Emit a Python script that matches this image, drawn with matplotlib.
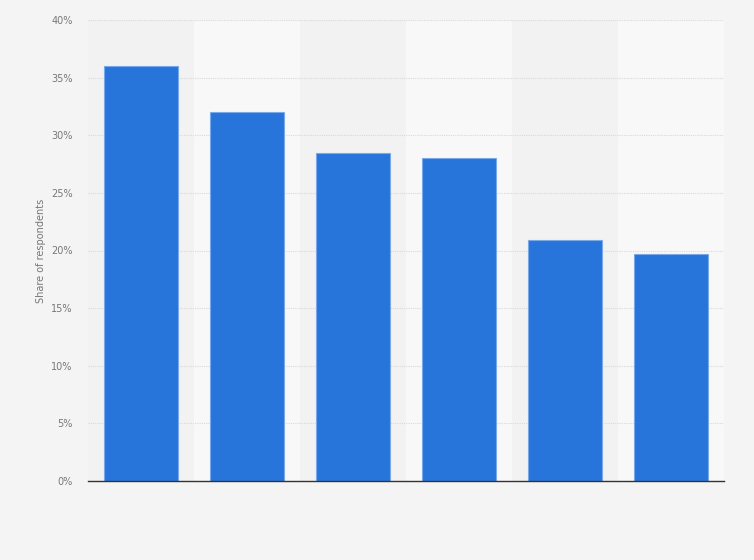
import matplotlib.pyplot as plt
from matplotlib.ticker import FuncFormatter

# Chart data
categories = ['1', '2', '3', '4', '5', '6']
shares = [36.0, 32.0, 28.5, 28.0, 20.9, 19.7]
y_ticks = [0, 5, 10, 15, 20, 25, 30, 35, 40]

bg = '#f4f4f4'
fig = plt.figure(figsize=(7.54, 5.60), dpi=100, facecolor=bg)
ax = fig.add_axes([88 / 754, 1 - 481 / 560, 636 / 754, 461 / 560])
ax.set_facecolor(bg)

x = list(range(len(categories)))

# alternating column bands
for i in x:
    ax.axvspan(i - 0.5, i + 0.5, color='#f2f2f2' if i % 2 == 0 else '#f8f8f8',
               zorder=0, lw=0)

ax.bar(x, shares, width=0.69, color='#2775db', edgecolor='#7aa9ea',
       linewidth=0.8, zorder=3)

ax.set_xlim(-0.5, len(categories) - 0.5)
ax.set_ylim(0, 40)
ax.set_yticks(y_ticks)
ax.yaxis.set_major_formatter(FuncFormatter(lambda v, p: f'{v:.0f}%'))
ax.grid(axis='y', color='#d9d9d9', linestyle=(0, (1, 1)), linewidth=0.8, zorder=1)
ax.set_axisbelow(True)

ax.set_xticks([])
ax.tick_params(axis='y', length=0, pad=11, labelsize=7, labelcolor='#777777')
for side in ['top', 'right', 'left']:
    ax.spines[side].set_visible(False)
ax.spines['bottom'].set_color('#333333')
ax.spines['bottom'].set_linewidth(1.0)
ax.spines['bottom'].set_zorder(4)

ax.set_ylabel('Share of respondents', fontsize=7, color='#777777', labelpad=4)

fig.savefig('out.png', dpi=100, facecolor=bg)
